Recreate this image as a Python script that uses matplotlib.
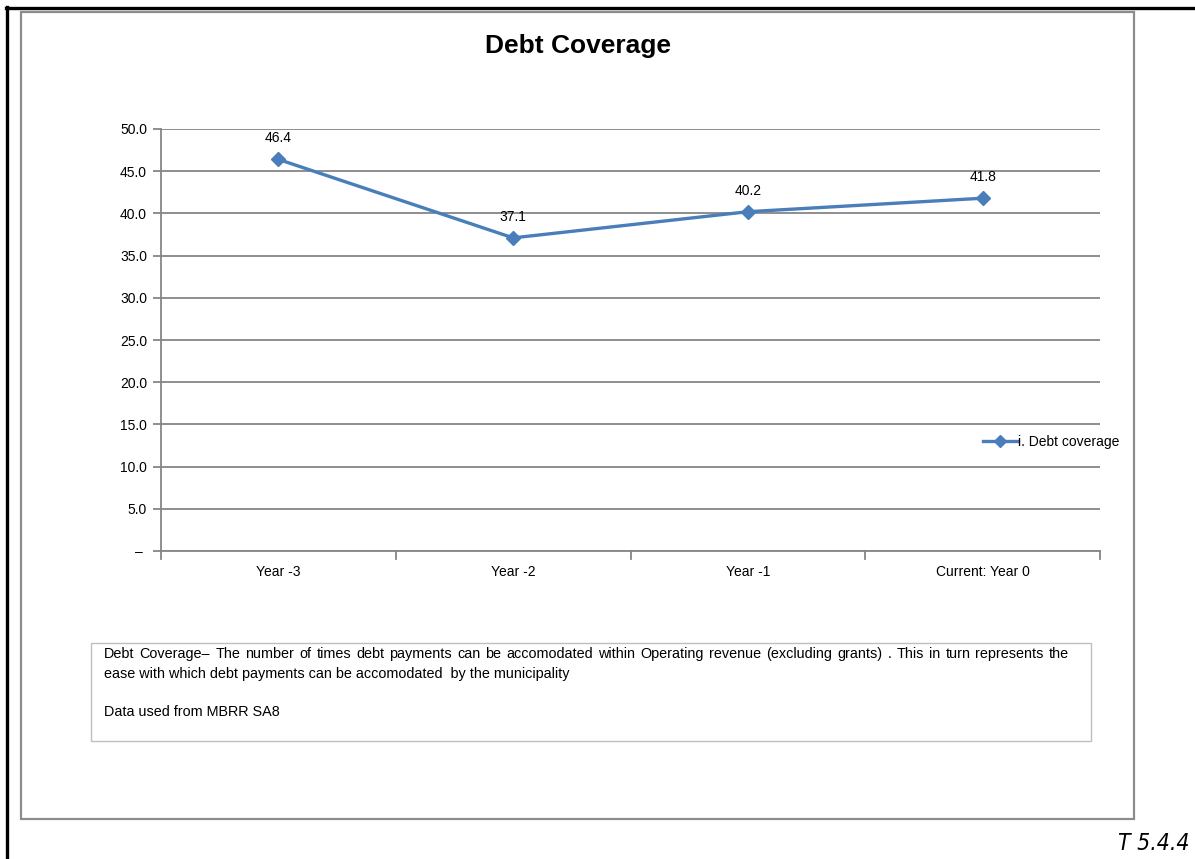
import matplotlib
matplotlib.use("Agg")
import matplotlib.pyplot as plt
from matplotlib import font_manager
from matplotlib.patches import Rectangle
from matplotlib.lines import Line2D

categories = ["Year -3", "Year -2", "Year -1", "Current: Year 0"]
debt_coverage = [46.4, 37.1, 40.2, 41.8]
series_name = "i. Debt coverage"
title = "Debt Coverage"
y_ticks = [0, 5, 10, 15, 20, 25, 30, 35, 40, 45, 50]
note_lines = [
    "Debt Coverage\u2013 The number of times debt payments can be accomodated within Operating revenue (excluding grants) . This in turn represents the",
    "ease with which debt payments can be accomodated  by the municipality",
    "",
    "Data used from MBRR SA8",
]
table_ref = "T 5.4.4"

names = {f.name for f in font_manager.fontManager.ttflist}
BASE = "Liberation Sans" if "Liberation Sans" in names else "DejaVu Sans"
plt.rcParams["font.family"] = [BASE, "DejaVu Sans"]

W, H = 1195, 859
fig = plt.figure(figsize=(W / 100, H / 100), dpi=100)

def fx(x):
    return x / W

def fy(y):
    return 1 - y / H

# outer black frame (top and left)
fig.add_artist(Line2D([fx(6), fx(1195)], [fy(8), fy(8)], color="black", lw=2.4))
fig.add_artist(Line2D([fx(7), fx(7)], [fy(7), fy(859)], color="black", lw=2.4))
# gray chart area frame
fig.add_artist(Rectangle((fx(21), fy(819)), fx(1134) - fx(21), fy(12) - fy(819),
                         fill=False, edgecolor="#8c8c8c", lw=1.6))
# note text box
fig.add_artist(Rectangle((fx(91), fy(741)), fx(1091) - fx(91), fy(643) - fy(741),
                         fill=False, edgecolor="#bfbfbf", lw=1.0))

ax = fig.add_axes([fx(161), fy(551), fx(1100) - fx(161), fy(129) - fy(551)])
x = list(range(len(categories)))
ax.plot(x, debt_coverage, color="#4a7ebb", lw=2.4, marker="D", markersize=7,
        label=series_name, zorder=3)
for xi, v in zip(x, debt_coverage):
    ax.annotate(f"{v:.1f}", (xi, v), xytext=(0, 10), textcoords="offset points",
                ha="center", va="bottom", fontsize=10, color="black")

ax.set_xlim(-0.5, len(categories) - 0.5)
ax.set_ylim(0, 50)
ax.set_yticks(y_ticks)
ax.set_yticklabels(["\u2013 " if t == 0 else f"{t:.1f}" for t in y_ticks], fontsize=10)
ax.set_xticks(x)
ax.set_xticklabels(categories, fontsize=10)
ax.tick_params(axis="x", length=0, pad=10)
ax.tick_params(axis="y", length=6, width=1.3, color="#868686", pad=4)
# category boundary ticks
for b in [i - 0.5 for i in range(len(categories) + 1)]:
    ax.plot([b, b], [0, -0.9], color="#868686", lw=1.3, clip_on=False)
ax.grid(axis="y", color="#868686", lw=1.3)
ax.set_axisbelow(True)
for s in ["top", "right"]:
    ax.spines[s].set_visible(False)
for s in ["left", "bottom"]:
    ax.spines[s].set_color("#868686")
    ax.spines[s].set_linewidth(1.3)

fig.text(fx(578), fy(46), title, ha="center", va="center", fontsize=19,
         fontweight="bold")

fig.legend(handles=[Line2D([0], [0], color="#4a7ebb", lw=2.4, marker="D", markersize=6)],
           labels=[series_name], loc="center left", bbox_to_anchor=(fx(983), fy(442)),
           frameon=False, fontsize=10, handlelength=2.5, handletextpad=0.05,
           borderaxespad=0, borderpad=0)

# note: first line justified between x=104 and x=1069
renderer = fig.canvas.get_renderer()
NOTE_FS = 10.4
baselines = [658, 678, 697, 716]
first_words = note_lines[0].split(" ")
word_texts = []
widths = []
for w in first_words:
    t = fig.text(0, fy(baselines[0]), w, ha="left", va="baseline", fontsize=NOTE_FS)
    widths.append(t.get_window_extent(renderer).width)
    word_texts.append(t)
left_px, right_px = 104, 1069
gap = (right_px - left_px - sum(widths)) / (len(first_words) - 1)
pos = left_px
for t, wd in zip(word_texts, widths):
    t.set_x(fx(pos))
    pos += wd + gap
for line, yb in zip(note_lines[1:], baselines[1:]):
    if line:
        fig.text(fx(104), fy(yb), line, ha="left", va="baseline", fontsize=NOTE_FS)

fig.text(fx(1189), fy(850), table_ref, ha="right", va="baseline", fontsize=16.5,
         style="italic", family=["DejaVu Sans"], fontstretch="condensed")

fig.savefig("out.png", dpi=100)
